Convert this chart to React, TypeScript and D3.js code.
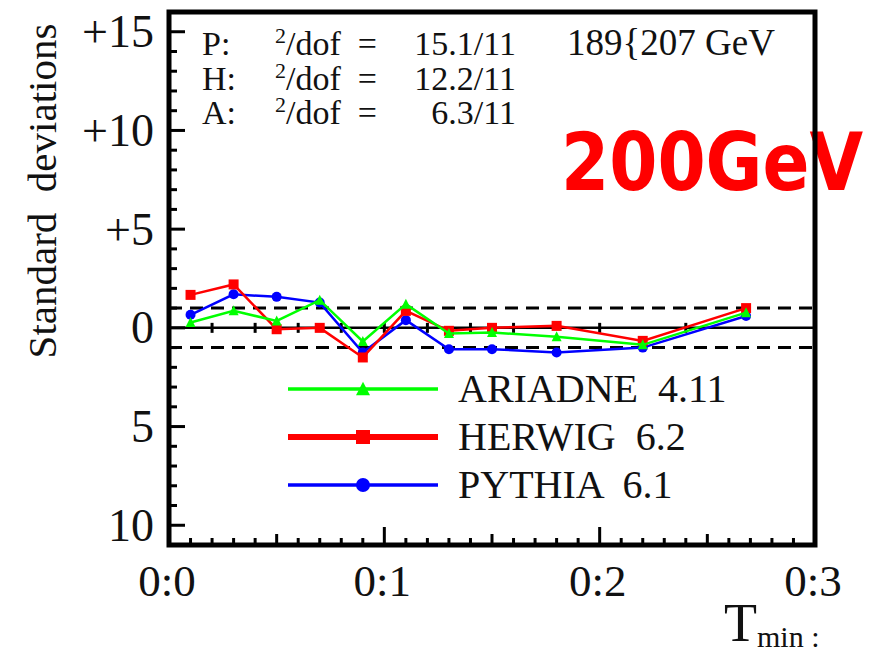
import { useEffect, useRef } from 'react'
import * as d3 from 'd3'

// T_min bin centres and deviations (in standard deviations) per generator
const tMin = [0.01, 0.03, 0.05, 0.07, 0.09, 0.11, 0.13, 0.15, 0.18, 0.22, 0.268]
const ariadne = [0.27, 0.86, 0.35, 1.4, -0.69, 1.2, -0.29, -0.24, -0.45, -0.86, 0.77]
const herwig = [1.67, 2.2, -0.07, 0.0, -1.5, 0.86, -0.15, 0.0, 0.1, -0.66, 1.0]
const pythia = [0.66, 1.7, 1.57, 1.28, -1.25, 0.39, -1.08, -1.08, -1.25, -1.0, 0.6]
const binEdges = [0.02, 0.04, 0.06, 0.08, 0.1, 0.12, 0.14, 0.16, 0.2, 0.24]

const yTickValues = [15, 10, 5, 0, -5, -10]
const yTickLabels = ['+15', '+10', '+5', '0', '5', '10']
const xTickValues = [0, 0.1, 0.2, 0.3]
const xTickLabels = ['0:0', '0:1', '0:2', '0:3']

const chiLabels = ['P:', 'H:', 'A:']
const chiValues = ['15.1/11', '12.2/11', '6.3/11']

const series = [
  { name: 'PYTHIA  6.1', values: pythia, color: '#0000ff', marker: 'circle', legendWidth: 3.5 },
  { name: 'HERWIG  6.2', values: herwig, color: '#ff0000', marker: 'square', legendWidth: 6 },
  { name: 'ARIADNE  4.11', values: ariadne, color: '#00ff00', marker: 'triangle', legendWidth: 3.5 },
]
const legendOrder = ['ARIADNE  4.11', 'HERWIG  6.2', 'PYTHIA  6.1']

export default function App() {
  const svgRef = useRef<SVGSVGElement>(null)

  useEffect(() => {
    if (!svgRef.current) return
    const width = 880
    const height = 653
    const frame = { left: 169, right: 815, top: 12, bottom: 545 }
    const serif = 'Liberation Serif'

    const svg = d3.select(svgRef.current)
    svg.selectAll('*').remove()
    svg.attr('width', width).attr('height', height).style('background', '#fff')

    const x = d3.scaleLinear().domain([0, 0.3]).range([frame.left, frame.right])
    const y = d3.scaleLinear().domain([-11, 16]).range([frame.bottom, frame.top])

    // Big red energy label (frame drawn over it later)
    svg
      .append('text')
      .attr('x', 561)
      .attr('y', 190)
      .attr('fill', '#ff0000')
      .attr('textLength', 302)
      .attr('lengthAdjust', 'spacingAndGlyphs')
      .style('font-family', 'DejaVu Sans')
      .style('font-weight', 'bold')
      .style('font-size', '80px')
      .text('200GeV')

    // reference lines
    svg
      .append('line')
      .attr('x1', frame.left)
      .attr('x2', frame.right)
      .attr('y1', y(0))
      .attr('y2', y(0))
      .attr('stroke', '#000')
      .attr('stroke-width', 2.5)
    ;[1, -1].forEach(v => {
      svg
        .append('line')
        .attr('x1', frame.left)
        .attr('x2', frame.right)
        .attr('y1', y(v))
        .attr('y2', y(v))
        .attr('stroke', '#000')
        .attr('stroke-width', 3)
        .attr('stroke-dasharray', '13 8')
    })
    // bin edge marks on the zero line
    svg
      .selectAll('.edge')
      .data(binEdges)
      .enter()
      .append('line')
      .attr('x1', d => x(d))
      .attr('x2', d => x(d))
      .attr('y1', y(0) - 5)
      .attr('y2', y(0) + 5)
      .attr('stroke', '#000')
      .attr('stroke-width', 3)

    // data lines and markers
    const line = d3
      .line<number>()
      .x((_, i) => x(tMin[i]))
      .y(d => y(d))

    const drawMarker = (g: any, kind: string, cx: number, cy: number, size: number, color: string) => {
      if (kind === 'circle') {
        g.append('circle').attr('cx', cx).attr('cy', cy).attr('r', size / 2).attr('fill', color)
      } else if (kind === 'square') {
        g.append('rect')
          .attr('x', cx - size / 2)
          .attr('y', cy - size / 2)
          .attr('width', size)
          .attr('height', size)
          .attr('fill', color)
      } else {
        const h = size * 0.9
        g.append('path')
          .attr('d', `M${cx},${cy - h / 2 - 1}L${cx + size / 2},${cy + h / 2}L${cx - size / 2},${cy + h / 2}Z`)
          .attr('fill', color)
      }
    }

    series.forEach(s => {
      const g = svg.append('g')
      g.append('path')
        .datum(s.values)
        .attr('fill', 'none')
        .attr('stroke', s.color)
        .attr('stroke-width', 2.5)
        .attr('d', line)
      s.values.forEach((v, i) => drawMarker(g, s.marker, x(tMin[i]), y(v), 10, s.color))
    })

    // legend
    legendOrder.forEach((name, i) => {
      const s = series.find(d => d.name === name)!
      const ly = 389 + i * 48
      const g = svg.append('g')
      g.append('line')
        .attr('x1', 288)
        .attr('x2', 438)
        .attr('y1', ly)
        .attr('y2', ly)
        .attr('stroke', s.color)
        .attr('stroke-width', s.legendWidth)
      drawMarker(g, s.marker, 363, ly, 14, s.color)
      g.append('text')
        .attr('x', 458)
        .attr('y', ly + 13)
        .style('font-family', serif)
        .style('font-size', '40px')
        .style('white-space', 'pre')
        .attr('fill', '#111')
        .text(name)
    })

    // chi2 annotations, one text per row
    chiLabels.forEach((lab, i) => {
      const by = 55 + i * 34.5
      const t = svg
        .append('text')
        .attr('y', by)
        .attr('fill', '#111')
        .style('font-family', serif)
        .style('font-size', '34px')
        .style('white-space', 'pre')
      t.append('tspan').attr('x', 202).text(lab)
      t.append('tspan').attr('x', 275).attr('dy', -12).style('font-size', '22px').text('2')
      t.append('tspan').attr('dy', 12).text('/dof  =  ')
      t.append('tspan').attr('x', 516).attr('text-anchor', 'end').text(chiValues[i])
    })
    svg
      .append('text')
      .attr('x', 567)
      .attr('y', 55)
      .attr('fill', '#111')
      .style('font-family', serif)
      .style('font-size', '37px')
      .text('189{207 GeV')

    // ticks
    const yMinor = d3.range(-11, 17, 1)
    svg
      .selectAll('.ytick')
      .data(yMinor)
      .enter()
      .append('line')
      .attr('x1', frame.left)
      .attr('x2', d => frame.left + (d % 5 === 0 ? 16 : 8))
      .attr('y1', d => y(d))
      .attr('y2', d => y(d))
      .attr('stroke', '#000')
      .attr('stroke-width', 3)

    const xMinor = d3.range(1, 30).map(d => d / 100)
    svg
      .selectAll('.xtick')
      .data(xMinor)
      .enter()
      .append('line')
      .attr('x1', d => x(d))
      .attr('x2', d => x(d))
      .attr('y1', frame.bottom)
      .attr('y2', (_, i) => frame.bottom - ((i + 1) % 10 === 0 ? 18 : (i + 1) % 5 === 0 ? 11 : 7))
      .attr('stroke', '#000')
      .attr('stroke-width', 3)

    // frame
    svg
      .append('rect')
      .attr('x', frame.left)
      .attr('y', frame.top)
      .attr('width', frame.right - frame.left)
      .attr('height', frame.bottom - frame.top)
      .attr('fill', 'none')
      .attr('stroke', '#000')
      .attr('stroke-width', 5)

    // tick labels
    svg
      .selectAll('.ylabel')
      .data(yTickValues)
      .enter()
      .append('text')
      .attr('x', 154)
      .attr('y', d => y(d))
      .attr('dy', '0.34em')
      .attr('text-anchor', 'end')
      .attr('fill', '#111')
      .style('font-family', serif)
      .style('font-size', '46px')
      .text((_, i) => yTickLabels[i])

    svg
      .selectAll('.xlabel')
      .data(xTickValues)
      .enter()
      .append('text')
      .attr('x', d => x(d) - 2)
      .attr('y', 596)
      .attr('text-anchor', 'middle')
      .attr('fill', '#111')
      .style('font-family', serif)
      .style('font-size', '45px')
      .text((_, i) => xTickLabels[i])

    // axis titles
    svg
      .append('text')
      .attr('transform', `translate(56, 191) rotate(-90)`)
      .attr('text-anchor', 'middle')
      .attr('fill', '#111')
      .style('font-family', serif)
      .style('font-size', '41px')
      .style('white-space', 'pre')
      .text('Standard  deviations')

    const tt = svg.append('text').attr('x', 724).attr('y', 641).attr('fill', '#111').style('font-family', serif)
    tt.append('tspan').style('font-size', '54px').text('T')
    tt.append('tspan').attr('dy', 6).style('font-size', '30px').text('min :')
  }, [])

  return (
    <div style={{ position: 'absolute', left: 0, top: 0 }}>
      <svg ref={svgRef} style={{ display: 'block' }}></svg>
    </div>
  )
}
